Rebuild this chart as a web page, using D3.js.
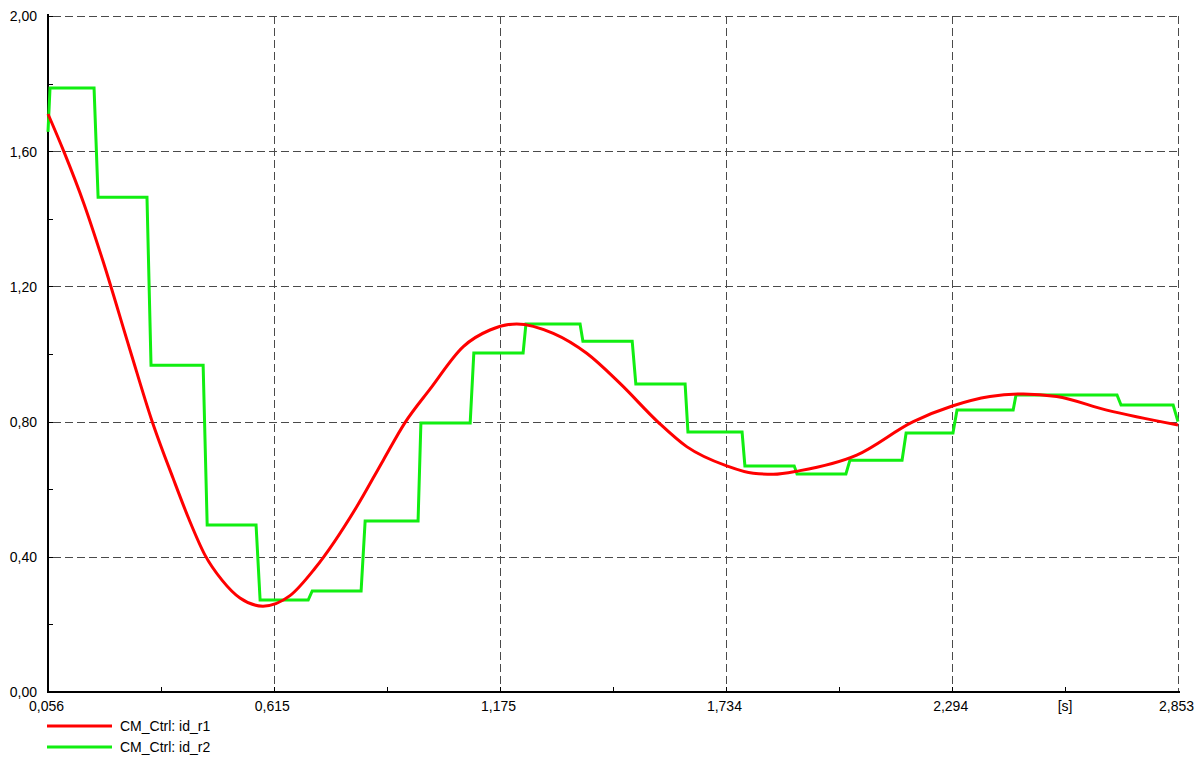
<!DOCTYPE html>
<html>
<head>
<meta charset="utf-8">
<script src="https://cdn.jsdelivr.net/npm/d3@7"></script>
<style>
  html, body { margin: 0; padding: 0; background: #fff; }
  svg { display: block; }
  text { font-family: Arial, "Liberation Sans", sans-serif; font-size: 14px; fill: #000; }
</style>
</head>
<body>
<svg id="chart" width="1203" height="758"></svg>
<script>
// ---- data ----
const xTickValues = [0.056, 0.615, 1.175, 1.734, 2.294, 2.853];
const xTickLabels = ["0,056", "0,615", "1,175", "1,734", "2,294", "2,853"];
const yTickValues = [0, 0.4, 0.8, 1.2, 1.6, 2.0];
const yTickLabels = ["0,00", "0,40", "0,80", "1,20", "1,60", "2,00"];
const xUnit = "[s]";
const seriesNames = ["CM_Ctrl: id_r1", "CM_Ctrl: id_r2"];

const redTime = [0.056, 0.0956, 0.1451, 0.1921, 0.2590, 0.3134, 0.3654, 0.4050, 0.4446, 0.4867, 0.5312, 0.5882,
  0.6550, 0.7169, 0.8201, 0.8859, 0.9397, 1.0015, 1.0840, 1.1500, 1.2161, 1.3067, 1.3894, 1.4718,
  1.5666, 1.6369, 1.7359, 1.8018, 1.8513, 1.9174, 2.0577, 2.1978, 2.2943, 2.3876, 2.4701, 2.5527,
  2.6765, 2.853];
const redValue = [1.710, 1.598, 1.444, 1.275, 1.012, 0.802, 0.633, 0.511, 0.405, 0.331, 0.278, 0.254,
  0.285, 0.366, 0.548, 0.686, 0.797, 0.896, 1.022, 1.071, 1.089, 1.061, 1.002, 0.913,
  0.798, 0.726, 0.669, 0.647, 0.644, 0.655, 0.701, 0.800, 0.846, 0.874, 0.882, 0.874,
  0.834, 0.790];

const greenTime = [0.056, 0.061, 0.170, 0.180, 0.301, 0.311, 0.440, 0.450, 0.571, 0.581, 0.700, 0.710,
  0.831, 0.841, 0.972, 0.979, 1.101, 1.110, 1.232, 1.239, 1.373, 1.380, 1.502, 1.511, 1.633, 1.640,
  1.774, 1.781, 1.903, 1.910, 2.031, 2.041, 2.170, 2.180, 2.296, 2.306, 2.445, 2.452, 2.702, 2.712,
  2.841, 2.853];
const greenValue = [1.657, 1.787, 1.787, 1.464, 1.464, 0.967, 0.967, 0.494, 0.494, 0.272, 0.272, 0.299,
  0.299, 0.506, 0.506, 0.796, 0.796, 1.003, 1.003, 1.089, 1.089, 1.038, 1.038, 0.911, 0.911, 0.769,
  0.769, 0.669, 0.669, 0.645, 0.645, 0.686, 0.686, 0.766, 0.766, 0.834, 0.834, 0.879, 0.879, 0.849,
  0.849, 0.800];

// ---- layout ----
const L = 48, R = 1178, T = 16, B = 692;
const svg = d3.select("#chart");
const x = d3.scaleLinear().domain([xTickValues[0], xTickValues[xTickValues.length - 1]]).range([L, R]);
const y = d3.scaleLinear().domain([0, 2]).range([B, T]);
const crisp = v => Math.round(v) + 0.5;

const gridColor = "#4a4a4a";
const grid = svg.append("g");
grid.selectAll("line.h").data(yTickValues.slice(1)).join("line")
  .attr("x1", L + 5).attr("x2", R)
  .attr("y1", d => crisp(y(d))).attr("y2", d => crisp(y(d)))
  .attr("stroke", gridColor).attr("stroke-width", 1).attr("stroke-dasharray", "8,4");
grid.selectAll("line.v").data(xTickValues.slice(1)).join("line")
  .attr("x1", d => crisp(x(d))).attr("x2", d => crisp(x(d)))
  .attr("y1", T).attr("y2", B)
  .attr("stroke", gridColor).attr("stroke-width", 1).attr("stroke-dasharray", "8,4");

const xMinor = d3.pairs(xTickValues).map(p => (p[0] + p[1]) / 2);
const yMinor = d3.pairs(yTickValues).map(p => (p[0] + p[1]) / 2);

const xAxis = d3.axisBottom(x).tickValues(xTickValues).tickSize(0).tickFormat((d, i) => xTickLabels[i]);
const gx = svg.append("g").attr("transform", `translate(0,${B})`).call(xAxis);
gx.select(".domain").remove();
gx.selectAll("text").attr("dy", null).attr("y", 19).attr("dx", -2)
  .style("font-family", "Arial, 'Liberation Sans', sans-serif").style("font-size", "14px");

const yAxis = d3.axisLeft(y).tickValues(yTickValues).tickSize(0).tickFormat((d, i) => yTickLabels[i]);
const gy = svg.append("g").attr("transform", `translate(${L},0)`).call(yAxis);
gy.select(".domain").remove();
gy.selectAll("text").attr("x", -11).attr("dy", "0.35em")
  .style("font-family", "Arial, 'Liberation Sans', sans-serif").style("font-size", "14px");

svg.append("g").selectAll("line").data(xMinor.concat(xTickValues.slice(1, -1))).join("line")
  .attr("x1", d => crisp(x(d))).attr("x2", d => crisp(x(d)))
  .attr("y1", B).attr("y2", B - 5).attr("stroke", "#000");
svg.append("g").selectAll("line").data(yMinor.concat(yTickValues.slice(1))).join("line")
  .attr("x1", L).attr("x2", L + 5)
  .attr("y1", d => crisp(y(d))).attr("y2", d => crisp(y(d))).attr("stroke", "#000");

svg.append("line").attr("x1", L).attr("x2", L).attr("y1", T - 2).attr("y2", B + 1)
  .attr("stroke", "#000").attr("stroke-width", 2);
svg.append("line").attr("x1", L - 1).attr("x2", R + 2).attr("y1", B).attr("y2", B)
  .attr("stroke", "#000").attr("stroke-width", 2);

svg.append("text").attr("x", x(xMinor[xMinor.length - 1])).attr("y", B + 19)
  .attr("text-anchor", "middle").text(xUnit);

const redData = redTime.map((t, i) => [t, redValue[i]]);
const greenData = greenTime.map((t, i) => [t, greenValue[i]]);
const colors = ["#ff0000", "#11ee11"];

svg.append("path").datum(greenData)
  .attr("d", d3.line().x(d => x(d[0])).y(d => y(d[1])))
  .attr("fill", "none").attr("stroke", colors[1]).attr("stroke-width", 3)
  .attr("stroke-linejoin", "miter");
svg.append("path").datum(redData)
  .attr("d", d3.line().x(d => x(d[0])).y(d => y(d[1])).curve(d3.curveMonotoneX))
  .attr("fill", "none").attr("stroke", colors[0]).attr("stroke-width", 3)
  .attr("stroke-linejoin", "round");

const lg = svg.append("g");
seriesNames.forEach((name, i) => {
  const yy = 726 + i * 21;
  lg.append("line").attr("x1", 47).attr("x2", 112).attr("y1", yy).attr("y2", yy)
    .attr("stroke", colors[i]).attr("stroke-width", 3);
  lg.append("text").attr("x", 120).attr("y", yy).attr("dy", "0.35em").text(name);
});
</script>
</body>
</html>
